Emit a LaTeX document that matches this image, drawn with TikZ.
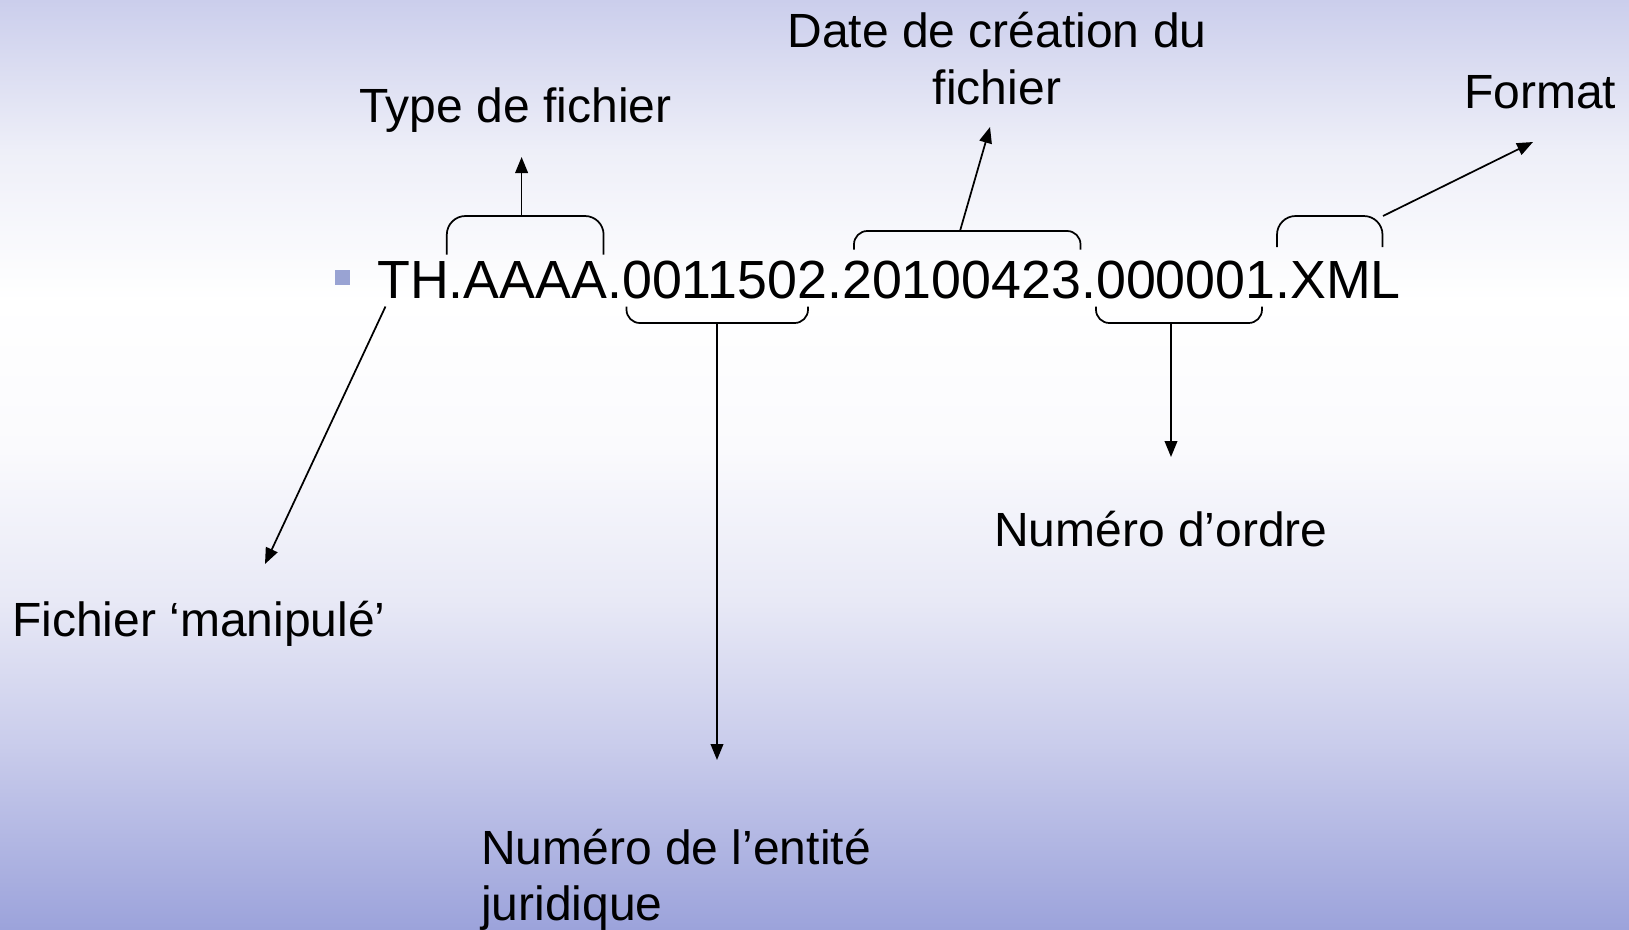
\documentclass[tikz,border=0pt]{standalone}
\usepackage{fontspec}
\setmainfont{Liberation Sans}
\usetikzlibrary{arrows.meta}
\definecolor{g0}{HTML}{CBCEEC}
\definecolor{g1}{HTML}{EEEFF8}
\definecolor{g2}{HTML}{FFFFFF}
\definecolor{g3}{HTML}{FAFAFD}
\definecolor{g4}{HTML}{E8E9F6}
\definecolor{g5}{HTML}{C8CBEB}
\definecolor{g6}{HTML}{9CA3DB}
\definecolor{bulletc}{HTML}{99A3D3}
\begin{document}
\begin{tikzpicture}[x=0.75pt,y=-0.75pt,
  conn/.style={line width=1.3pt,-{Triangle[length=12pt,width=9.5pt]}},
  brk/.style={line width=1.3pt,rounded corners=10pt},
  brktall/.style={line width=1.3pt,rounded corners=14pt},
  lbl/.style={inner sep=0pt,anchor=base west,font=\fontsize{36}{43.2}\selectfont},
  band/.style={draw=none}]
\useasboundingbox (0,0) rectangle (1629,929);
% background gradient
\shade[band,top color=g0,bottom color=g1] (0,0) rectangle (1629,151);
\shade[band,top color=g1,bottom color=g2] (0,150) rectangle (1629,301);
\shade[band,top color=g2,bottom color=g3] (0,300) rectangle (1629,451);
\shade[band,top color=g3,bottom color=g4] (0,450) rectangle (1629,601);
\shade[band,top color=g4,bottom color=g5] (0,600) rectangle (1629,751);
\shade[band,top color=g5,bottom color=g6] (0,750) rectangle (1629,929);
% bullet and main text
\node[fill=bulletc,inner sep=0pt,minimum size=11.25pt] (bullet) at (342.5,277.5) {};
\node[inner sep=0pt,anchor=base west,font=\fontsize{40.3}{48}\selectfont] (code) at (377,298) {TH.AAAA.0011502.20100423.000001.XML};
% brackets
\draw[brktall] (446.8,254.5) -- (446.8,216) -- (603.6,216) -- (603.6,254.5);
\draw[brk] (626.5,306.5) -- (626.5,323) -- (808,323) -- (808,306.5);
\draw[brk] (854,249.5) -- (854,231) -- (1080.5,231) -- (1080.5,249.5);
\draw[brk] (1096,306.5) -- (1096,323) -- (1262,323) -- (1262,306.5);
\draw[brktall] (1277,247) -- (1277,216) -- (1382.5,216) -- (1382.5,247);
% connector endpoints
\coordinate (sType) at (521.6,216);
\coordinate (tType) at (521.6,157);
\coordinate (sEnt) at (717,323);
\coordinate (tEnt) at (717,760);
\coordinate (sDate) at (960,231);
\coordinate (tDate) at (990,127);
\coordinate (sOrd) at (1171,323);
\coordinate (tOrd) at (1171,457);
\coordinate (sFmt) at (1383,216);
\coordinate (tFmt) at (1533,142);
\coordinate (sMan) at (385.5,306.5);
\coordinate (tMan) at (265,564);
% labels
\node[lbl] (type) at (359,122) {Type de fichier};
\node[lbl,anchor=base] (date1) at (997,47) {Date de création du};
\node[lbl,anchor=base] (date2) at (997,104) {fichier};
\node[lbl] (format) at (1464,108) {Format};
\node[lbl] (ordre) at (994,546) {Numéro d’ordre};
\node[lbl] (manip) at (12,636) {Fichier ‘manipulé’};
\node[lbl] (ent1) at (481,864) {Numéro de l’entité};
\node[lbl] (ent2) at (481,920) {juridique};
% arrows
\draw[conn] (sType) -- (tType);
\draw[conn] (sEnt) -- (tEnt);
\draw[conn] (sDate) -- (tDate);
\draw[conn] (sOrd) -- (tOrd);
\draw[conn] (sFmt) -- (tFmt);
\draw[conn] (sMan) -- (tMan);
\end{tikzpicture}
\end{document}
